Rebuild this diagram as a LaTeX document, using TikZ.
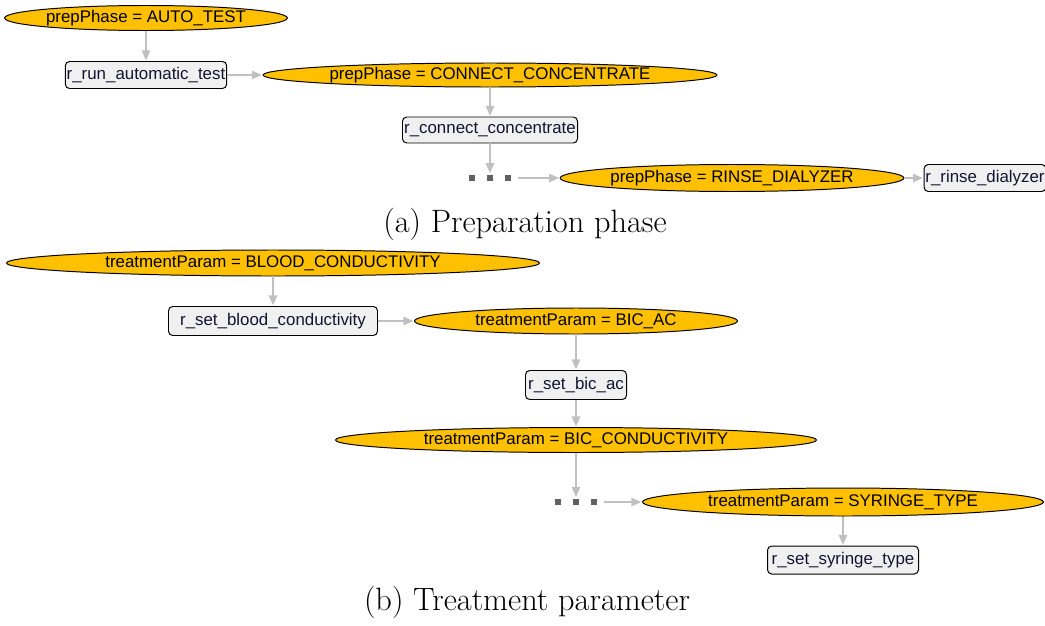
\documentclass[tikz,border=0pt]{standalone}
\usepackage{fontspec}
\newfontfamily\guifont{Liberation Sans}
\usetikzlibrary{shapes.geometric,arrows.meta}

\definecolor{condfill}{RGB}{255,192,0}
\definecolor{rulefill}{RGB}{240,240,240}
\definecolor{linkgray}{RGB}{192,192,192}
\definecolor{dotgray}{RGB}{96,96,96}
\definecolor{ruletext}{RGB}{20,20,50}

\def\pxunit{0.025cm}

\begin{document}
\begin{tikzpicture}[x=\pxunit,y=-\pxunit,>={Triangle[length=7pt,width=6pt]}]
    \tikzstyle{link}=[->,draw=linkgray,line width=1pt,shorten >=0.5pt]
    \tikzstyle{cond}=[ellipse,draw=black,line width=0.7pt,fill=condfill,inner sep=0pt,
        font=\guifont\fontsize{12}{14}\selectfont]
    \tikzstyle{rule}=[rectangle,rounded corners=3pt,draw=black,line width=0.7pt,fill=rulefill,
        text=ruletext,inner xsep=1pt,inner ysep=0pt,font=\guifont\fontsize{12}{14}\selectfont]
    \tikzstyle{dotrow}=[rectangle,minimum width=42*\pxunit,minimum height=8*\pxunit,inner sep=0pt]
    \tikzstyle{caption}=[font=\fontsize{23}{26}\selectfont]

    \useasboundingbox (0,0) rectangle (1045,625);

    % (a) preparation phase
    \node[cond,minimum width=278*\pxunit,minimum height=25*\pxunit] (E-1) at (146,18) {prepPhase = AUTO\_TEST};
    \node[rule,minimum width=160*\pxunit,minimum height=27*\pxunit] (R-1) at (146,75) {r\_run\_automatic\_test};
    \node[cond,minimum width=454*\pxunit,minimum height=24*\pxunit] (E-2) at (490,75) {prepPhase = CONNECT\_CONCENTRATE};
    \node[rule,minimum width=175*\pxunit,minimum height=26*\pxunit] (R-2) at (490,130) {r\_connect\_concentrate};
    \node[dotrow] (D-1) at (490,178) {};
    \node[cond,minimum width=335*\pxunit,minimum height=27*\pxunit] (E-3) at (732,178) {prepPhase = RINSE\_DIALYZER};
    \node[rule,minimum width=116*\pxunit,minimum height=27*\pxunit] (R-3) at (985,178) {r\_rinse\_dialyzer};
    \node[caption] (cap-a) at (525,224) {(a) Preparation phase};

    % (b) treatment parameter
    \node[cond,minimum width=533*\pxunit,minimum height=26*\pxunit] (E-4) at (273,263) {treatmentParam = BLOOD\_CONDUCTIVITY};
    \node[rule,minimum width=209*\pxunit,minimum height=29*\pxunit] (R-4) at (273,321) {r\_set\_blood\_conductivity};
    \node[cond,minimum width=323*\pxunit,minimum height=26*\pxunit] (E-5) at (576,321) {treatmentParam = BIC\_AC};
    \node[rule,minimum width=101*\pxunit,minimum height=29*\pxunit] (R-5) at (576,385) {r\_set\_bic\_ac};
    \node[cond,minimum width=481*\pxunit,minimum height=25*\pxunit] (E-6) at (576,440) {treatmentParam = BIC\_CONDUCTIVITY};
    \node[dotrow] (D-2) at (576,502) {};
    \node[cond,minimum width=401*\pxunit,minimum height=28*\pxunit] (E-7) at (843,502) {treatmentParam = SYRINGE\_TYPE};
    \node[rule,minimum width=151*\pxunit,minimum height=28*\pxunit] (R-7) at (843,560) {r\_set\_syringe\_type};
    \node[caption] (cap-b) at (527,602) {(b) Treatment parameter};

    % the three dots standing for skipped steps
    \foreach \name in {D-1,D-2}
        \foreach \i in {-1,0,1}
            \fill[dotgray] (\name.center) ++(\i*18-3,-3) rectangle ++(6,6);

    % Connect the nodes
    \draw[link] (E-1) -- (R-1);
    \draw[link] (R-1) -- (E-2);
    \draw[link] (E-2) -- (R-2);
    \draw[link] (R-2) -- (D-1);
    \draw[link,shorten <=7*\pxunit] (D-1) -- (E-3);
    \draw[link] (E-3) -- (R-3);

    \draw[link] (E-4) -- (R-4);
    \draw[link] (R-4) -- (E-5);
    \draw[link] (E-5) -- (R-5);
    \draw[link] (R-5) -- (E-6);
    \draw[link] (E-6) -- (D-2);
    \draw[link,shorten <=7*\pxunit] (D-2) -- (E-7);
    \draw[link] (E-7) -- (R-7);
\end{tikzpicture}
\end{document}
